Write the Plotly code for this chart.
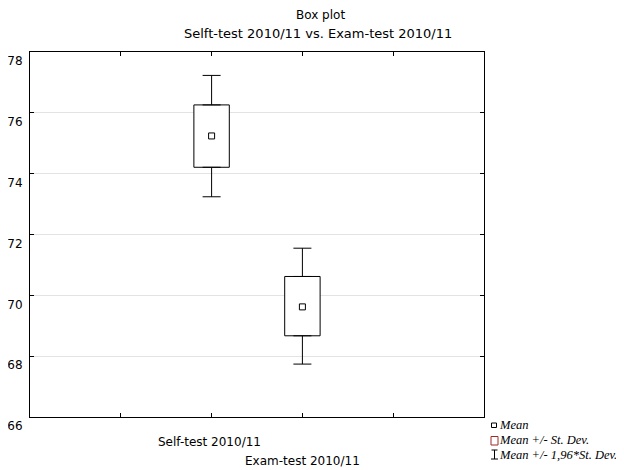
import plotly.graph_objects as go

categories = ["Self-test 2010/11", "Exam-test 2010/11"]
positions = [1, 2]
means = [75.24, 69.62]
sd_low = [74.21, 68.67]
sd_high = [76.26, 70.62]
ci_low = [73.24, 67.74]
ci_high = [77.23, 71.55]
legend_labels = ["Mean", "Mean +/- St. Dev.", "Mean +/- 1,96*St. Dev."]
y_ticks = [66, 68, 70, 72, 74, 76, 78]

# page body has an 8px margin; the figure is laid out so the photo matches
OFF = 8
W, H = 624 - OFF, 470 - OFF
L, T = 30 - OFF, 52 - OFF
R = W - (484 - OFF)
B = H - (417 - OFF)
pw, ph = W - L - R, H - T - B
def px(x): return (x - OFF - L) / pw
def py(y): return (H - B - (y - OFF)) / ph

fig = go.Figure()

# Mean +/- SD boxes
fig.add_trace(go.Bar(
    x=positions, base=sd_low, y=[h - l for h, l in zip(sd_high, sd_low)],
    width=0.39, marker=dict(color="white", line=dict(color="black", width=1)),
    showlegend=False, hoverinfo="skip",
))
# Whiskers: mean +/- 1.96 SD
err_common = dict(type="data", symmetric=False, color="black", thickness=1, width=9)
fig.add_trace(go.Scatter(
    x=positions, y=sd_high, mode="markers", marker=dict(size=0.1, color="rgba(0,0,0,0)"),
    error_y=dict(array=[c - h for c, h in zip(ci_high, sd_high)], arrayminus=[0, 0], **err_common),
    showlegend=False, hoverinfo="skip",
))
fig.add_trace(go.Scatter(
    x=positions, y=sd_low, mode="markers", marker=dict(size=0.1, color="rgba(0,0,0,0)"),
    error_y=dict(array=[0, 0], arrayminus=[l - c for l, c in zip(sd_low, ci_low)], **err_common),
    showlegend=False, hoverinfo="skip",
))
# Means
fig.add_trace(go.Scatter(
    x=positions, y=means, mode="markers",
    marker=dict(symbol="square-open", size=6, color="black", line=dict(width=1)),
    showlegend=False,
))

axis_common = dict(showline=True, linecolor="black", linewidth=1, mirror="ticks",
                   ticks="inside", ticklen=4, tickcolor="black", zeroline=False,
                   automargin=False)

fig.update_xaxes(range=[-1, 4], tickvals=[0, 1, 2, 3], ticktext=["", "", "", ""],
                 showgrid=False, **axis_common)
fig.update_yaxes(range=[66, 78], tickvals=y_ticks, showgrid=True, gridcolor="#e3e3e3",
                 gridwidth=1, ticklabelshift=9, ticklabelstandoff=4,
                 tickfont=dict(family="DejaVu Sans", size=12, color="black"),
                 **axis_common)

label_font = dict(family="DejaVu Sans", size=12, color="black")
label_y = [442, 461]
label_dx = [-0.02, 0.0]
for p, c, ly, dx in zip(positions, categories, label_y, label_dx):
    fig.add_annotation(x=p + dx, xref="x", y=py(ly), yref="paper",
                       text=c, showarrow=False, font=label_font, yanchor="middle")

fig.add_annotation(x=px(320), y=py(15), xref="paper", yref="paper", text="Box plot",
                   yanchor="middle", showarrow=False,
                   font=dict(family="DejaVu Sans", size=12, color="black"))
fig.add_annotation(x=px(318), y=py(34), xref="paper", yref="paper",
                   text="Selft-test 2010/11 vs. Exam-test 2010/11", yanchor="middle",
                   showarrow=False, font=dict(family="DejaVu Sans", size=13, color="black"))

# Legend
leg_font = dict(family="Liberation Serif", size=12.5, color="black", style="italic")
leg_y = [425, 440, 455]
for lbl, yy in zip(legend_labels, leg_y):
    fig.add_annotation(x=px(497), y=py(yy), xref="paper", yref="paper", text=lbl,
                       xanchor="left", yanchor="middle", showarrow=False, font=leg_font)
fig.add_shape(type="rect", xref="paper", yref="paper", x0=px(491.5), x1=px(496.5),
              y0=py(427.5), y1=py(423), line=dict(color="black", width=1))
fig.add_shape(type="rect", xref="paper", yref="paper", x0=px(491), x1=px(498),
              y0=py(445), y1=py(436.5), line=dict(color="#9b2a2a", width=1))
fig.add_shape(type="line", xref="paper", yref="paper", x0=px(494.5), x1=px(494.5),
              y0=py(459), y1=py(450), line=dict(color="black", width=1))
fig.add_shape(type="line", xref="paper", yref="paper", x0=px(491.5), x1=px(497.5),
              y0=py(450), y1=py(450), line=dict(color="black", width=1))
fig.add_shape(type="line", xref="paper", yref="paper", x0=px(491), x1=px(498),
              y0=py(459), y1=py(459), line=dict(color="black", width=1))

fig.update_layout(width=W, height=H, margin=dict(l=L, r=R, t=T, b=B, autoexpand=False),
                  plot_bgcolor="white", paper_bgcolor="white", showlegend=False,
                  barmode="overlay")

fig.write_html("out.html")
